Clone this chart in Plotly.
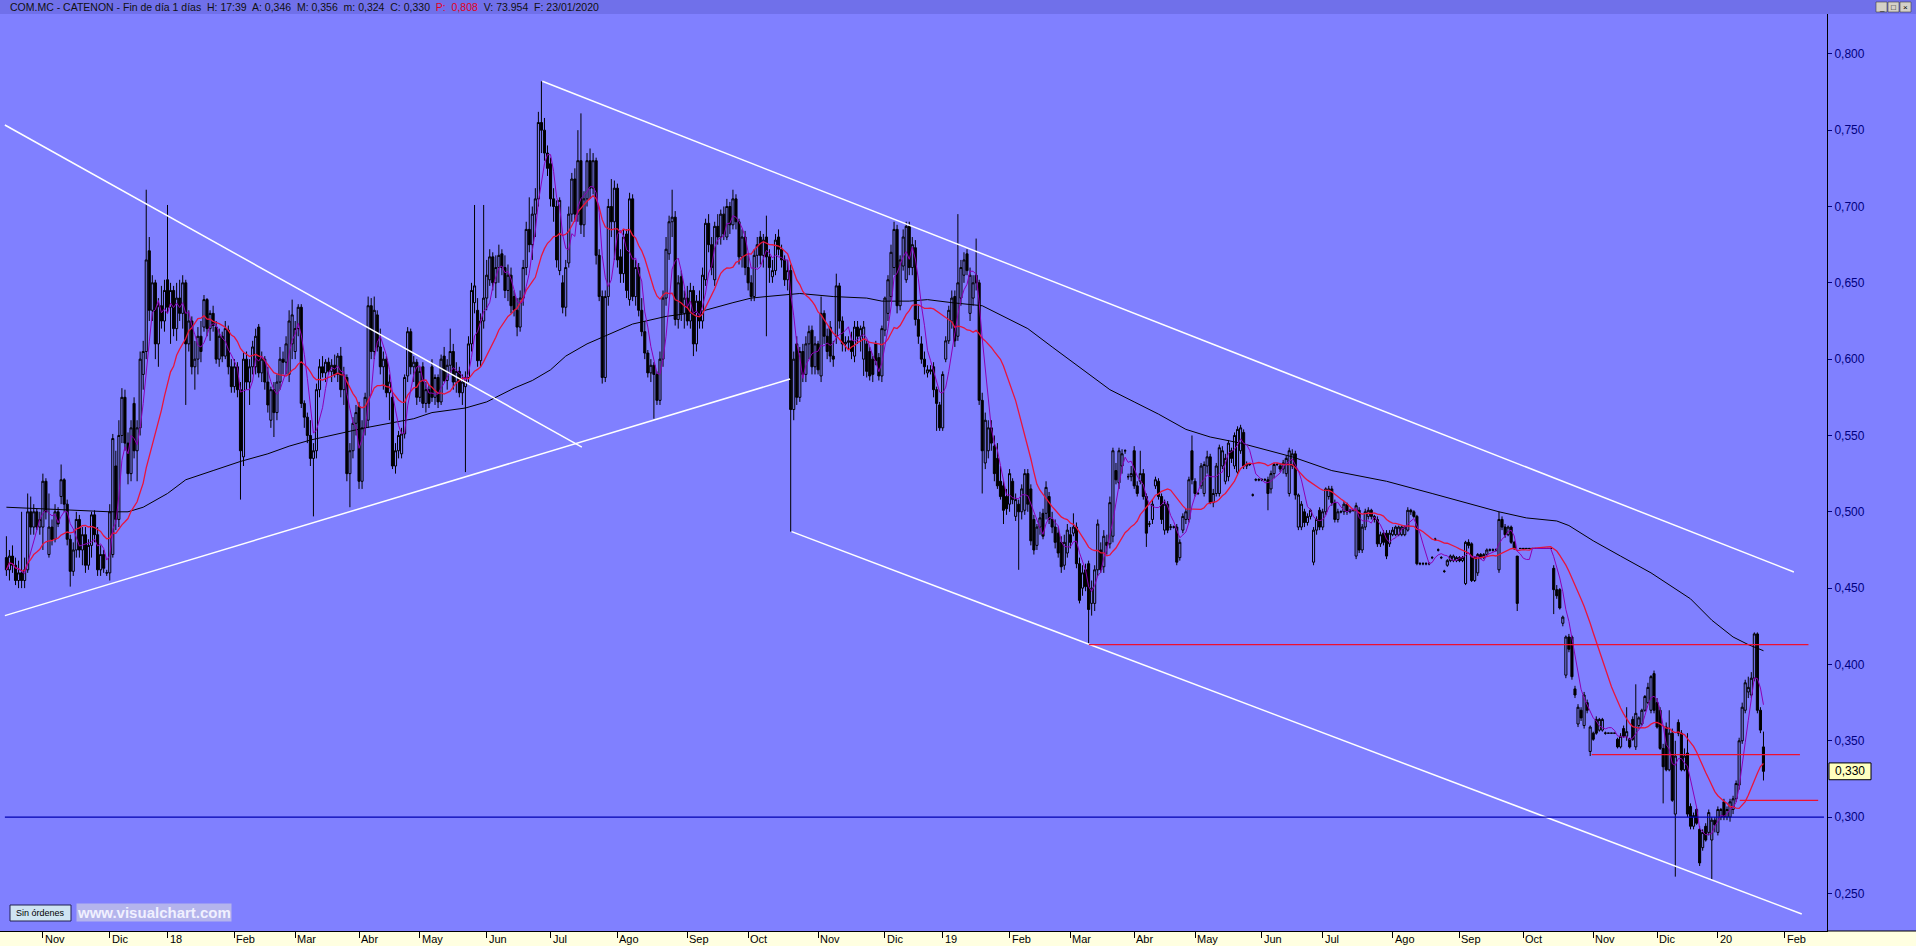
import pandas as pd
import plotly.graph_objects as go

# ---------------- data (prices in thousandths of a euro) ----------------
OPEN = [
470,462,471,465,455,460,455,462,500,490, 500,490,490,520,472,490,482,500,510,521,
505,482,461,475,495,475,485,465,478,498, 485,462,472,460,460,472,530,495,550,575,
545,525,571,540,555,590,605,671,632,650, 610,635,625,652,634,645,620,640,630,650,
610,625,595,600,615,621,639,620,630,621, 600,615,602,619,595,582,595,580,536,600,
585,595,595,621,591,600,585,560,580,565, 585,600,598,590,610,605,620,634,571,562,
550,535,540,580,595,591,598,592,596,590, 602,580,588,525,540,558,569,520,555,560,
635,605,629,608,595,600,578,575,530,540, 538,551,589,618,595,598,575,595,571,580,
595,575,588,572,602,586,596,605,585,592, 578,582,588,610,637,632,599,625,640,652,
667,650,660,669,660,645,655,641,632,621, 640,660,685,675,695,705,755,750,735,728,
705,700,658,650,634,663,695,718,695,730, 688,705,730,712,730,668,641,588,641,700,
690,712,667,656,682,639,705,641,660,632, 618,604,591,596,590,573,600,640,669,690,
693,626,654,630,640,625,645,610,638,625, 652,689,675,652,687,680,695,680,700,688,
705,690,667,680,660,650,641,668,680,668, 680,667,654,658,680,672,665,652,658,567,
610,575,605,590,610,619,595,610,589,630, 615,621,602,615,648,625,610,611,612,602,
621,615,600,610,605,600,610,601,589,619, 630,641,660,685,635,661,652,687,660,673,
626,610,600,591,592,595,580,570,555,600, 612,625,641,615,640,655,669,630,640,655,
650,573,532,540,555,543,535,520,517,510, 505,520,497,505,500,501,525,515,495,478,
490,499,499,510,495,490,486,480,465,473, 485,486,490,466,450,462,466,440,440,462,
475,464,480,479,484,527,519,530,540,523, 523,540,517,520,525,510,492,495,517,520,
510,488,505,490,490,490,470,488,495,495, 540,520,512,517,512,530,536,506,512,512,
530,520,523,540,530,526,540,552,530,531, 511,521,521,521,521,521,515,525,531,530,
528,525,512,530,538,490,490,500,493,497, 467,488,501,490,500,510,515,506,495,500,
500,505,500,501,471,501,475,490,497,501, 497,495,479,486,486,479,485,485,485,485,
485,488,501,500,497,466,466,466,466,470, 482,475,470,461,465,468,468,468,470,468,
453,480,479,455,460,472,470,472,475,475, 475,462,495,490,485,490,480,471,476,476,
476,476,476,476,476,476,476,476,476,463, 449,449,427,393,418,418,384,361,370,360,
375,343,355,364,357,357,355,355,355,355, 351,346,358,353,351,364,346,360,361,370,
375,370,394,375,370,345,359,331,355,302, 362,355,331,342,307,294,305,292,280,294,
290,285,298,290,300,310,300,300,305,312, 321,350,370,382,380,391,420,370,346]

HIGH = [
484,475,478,470,468,500,470,512,510,505, 502,500,525,522,512,495,505,503,531,522,
508,485,480,500,498,490,490,482,500,501, 490,478,475,462,505,551,540,560,581,580,
552,560,575,560,605,612,711,680,655,652, 640,648,652,701,650,648,650,652,655,652,
632,628,612,621,625,642,640,632,635,625, 620,618,625,622,600,600,598,585,604,605,
600,612,620,623,605,602,595,582,585,590, 608,605,615,632,639,625,636,636,573,565,
560,545,584,600,602,600,601,600,603,604, 608,595,590,545,562,570,572,560,578,641,
640,641,632,620,605,602,590,578,545,553, 555,590,621,620,602,600,595,598,585,583,
600,590,590,603,608,600,620,610,598,595, 590,592,615,650,701,640,630,701,665,672,
670,668,675,672,668,662,660,645,640,645, 665,690,706,700,712,762,782,758,740,732,
712,704,706,655,665,700,722,725,750,761, 710,735,738,735,732,672,645,645,705,718,
717,715,672,685,685,709,708,665,663,640, 625,606,600,598,592,605,645,680,694,711,
697,655,658,645,648,650,648,642,645,660, 692,695,680,690,695,698,700,705,703,711,
708,692,685,684,668,655,672,680,684,682, 694,672,665,682,685,675,668,665,662,605,
615,608,610,615,622,622,615,612,641,632, 620,625,612,656,650,628,615,615,618,625,
625,622,625,612,608,602,612,604,622,641, 655,675,690,688,668,685,690,690,680,678,
635,615,605,596,596,598,582,572,592,615, 635,645,645,695,665,670,672,660,655,679,
652,578,565,560,560,550,545,530,520,515, 528,522,512,508,518,528,528,518,498,492,
500,502,520,513,500,495,490,484,485,492, 490,499,493,470,465,466,468,455,465,495,
480,488,485,510,542,532,542,541,541,525, 530,543,520,540,528,512,494,508,523,522,
512,508,507,492,491,492,482,499,502,523, 550,522,513,532,533,540,538,515,532,544,
543,538,547,542,552,556,557,554,533,532, 512,522,522,522,522,523,527,532,532,532,
534,537,542,541,540,512,507,502,499,502, 490,497,503,502,516,517,517,508,502,501,
507,506,502,502,506,503,492,502,503,502, 498,497,487,488,488,488,490,491,491,491,
491,503,502,501,498,467,467,467,467,471, 483,476,471,462,469,472,472,471,471,471,
481,482,480,471,473,473,473,476,476,476, 476,500,497,492,491,491,481,471,476,476,
476,476,476,476,476,476,476,476,476,465, 452,450,432,419,420,419,386,374,372,382,
377,360,356,366,365,365,356,355,355,355, 352,355,360,372,352,366,387,366,371,380,
388,393,396,378,372,348,362,370,358,350, 364,357,345,355,309,303,306,294,292,296,
305,300,300,307,306,312,307,312,314,324, 352,375,390,392,395,421,421,372,356]

LOW = [
458,455,460,452,450,450,450,460,485,485, 488,485,475,495,470,478,480,490,505,500,
478,451,458,470,470,465,460,462,470,480, 458,458,460,458,455,470,488,490,545,540,
518,520,535,520,550,580,600,625,625,600, 595,620,618,630,610,615,612,625,620,570,
605,590,580,590,598,618,615,612,618,597, 595,598,600,590,578,578,575,508,530,580,
570,590,590,588,585,580,565,555,549,560, 580,590,590,585,600,600,615,568,555,545,
530,497,535,575,588,585,590,585,588,585, 575,570,520,503,535,550,515,515,550,555,
600,600,605,590,580,575,560,528,525,535, 535,548,585,590,585,570,572,568,565,568,
572,570,568,570,585,580,590,580,578,575, 570,526,585,605,630,595,595,620,632,648,
645,640,650,655,640,638,630,628,615,618, 635,655,670,665,680,700,735,730,720,700,
690,660,655,630,628,660,690,690,690,682, 680,700,705,708,662,638,584,585,635,680,
665,660,650,650,640,635,638,635,628,615, 600,588,585,561,570,570,595,635,665,680,
622,620,625,620,622,620,602,605,620,620, 648,670,655,648,675,675,678,678,682,685,
685,662,660,655,645,638,638,660,662,660, 615,650,650,655,668,660,648,645,487,560,
570,572,585,585,600,590,590,590,585,610, 600,598,595,610,620,605,605,606,600,598,
610,605,589,588,586,585,596,586,585,615, 625,638,655,630,632,658,650,655,655,622,
610,597,590,588,590,575,553,553,553,598, 610,620,608,612,635,650,655,625,635,645,
570,512,528,535,540,520,515,508,492,498, 500,505,494,462,495,498,500,478,472,475,
485,482,495,492,486,476,470,460,462,470, 476,484,463,440,445,448,413,432,435,458,
460,460,472,476,480,518,515,525,538,521, 520,515,510,518,508,477,490,492,515,508,
492,485,486,488,489,465,468,486,492,493, 518,510,511,515,510,525,505,503,510,510,
528,518,520,532,528,524,538,528,528,530, 510,520,520,520,520,501,512,522,530,526,
525,523,510,528,508,488,488,490,491,495, 465,485,488,488,498,508,504,493,493,499,
498,498,499,500,469,473,473,488,495,495, 493,477,477,478,469,477,484,484,484,484,
484,487,498,496,465,465,465,465,465,469, 481,474,469,460,464,467,467,467,467,467,
452,476,454,454,458,469,469,471,474,474, 474,460,488,483,484,479,475,435,476,476,
476,476,476,476,476,476,476,476,476,433, 443,436,425,391,408,390,378,359,363,358,
368,340,350,354,356,356,354,355,355,355, 345,345,352,350,345,350,344,358,360,369,
374,368,368,358,344,309,330,330,310,261, 353,330,330,300,292,292,295,268,278,284,
288,259,290,288,298,298,298,297,302,310, 318,348,368,378,378,389,368,355,324]

CLOSE = [
462,471,465,455,460,455,462,500,490,500, 490,495,520,500,490,482,500,492,521,505,
482,461,475,495,475,485,465,478,498,485, 462,472,463,460,500,548,495,550,575,545,
525,555,540,555,600,605,665,632,650,610, 635,625,645,634,645,620,640,630,650,610,
625,595,600,615,605,639,620,630,622,600, 615,602,620,595,582,595,580,540,600,585,
595,608,615,591,600,585,570,580,565,585, 600,598,610,625,629,620,634,571,562,550,
535,540,580,595,591,598,592,596,590,602, 580,590,525,540,558,565,520,555,575,635,
605,632,608,595,600,578,585,530,540,550, 551,588,618,595,598,575,592,571,580,571,
575,588,572,600,586,596,605,585,592,578, 585,588,610,645,648,599,625,640,655,667,
650,660,668,660,645,655,635,632,621,640, 660,685,675,695,705,755,750,735,725,705,
700,665,704,634,660,695,718,695,730,688, 705,730,712,730,668,641,588,641,700,690,
712,665,656,680,645,705,641,660,632,618, 604,591,596,590,573,600,640,672,690,693,
626,650,630,640,625,645,610,638,625,655, 689,675,660,687,680,695,682,700,688,705,
690,667,680,660,650,641,668,675,668,678, 667,660,658,678,672,665,652,658,567,600,
575,605,590,610,618,595,610,593,630,615, 605,602,600,648,625,610,611,612,605,621,
615,620,621,592,589,590,599,589,620,640, 652,670,685,635,665,680,687,660,675,626,
615,600,595,593,593,580,571,555,590,612, 632,640,612,650,660,665,658,655,650,650,
573,540,560,555,545,525,517,510,501,502, 525,508,508,500,515,525,505,481,475,490,
496,484,516,495,490,480,473,464,480,488, 480,490,466,442,460,451,436,450,462,492,
462,484,478,506,540,521,540,538,540,523, 525,517,512,525,510,486,492,505,521,510,
495,505,488,490,490,467,480,497,500,521, 521,512,512,530,531,536,506,512,530,542,
540,535,545,535,550,554,555,530,531,531, 511,521,521,521,521,512,525,531,531,528,
532,535,540,538,511,511,505,493,497,501, 488,495,490,500,515,515,506,495,500,500,
505,500,501,501,504,475,490,500,501,497, 495,479,485,480,471,486,488,490,490,490,
490,501,500,497,466,466,466,466,466,470, 482,475,470,461,468,471,471,470,468,470,
480,478,455,470,472,470,472,475,475,475, 475,495,490,485,490,480,476,440,476,476,
476,476,476,476,476,476,476,476,476,449, 445,437,431,418,410,392,380,372,365,380,
370,359,351,355,364,364,355,355,355,355, 346,353,353,356,346,351,368,365,370,379,
385,392,370,359,345,333,331,355,311,340, 355,331,340,302,294,301,296,270,290,285,
303,298,295,305,305,300,305,310,312,322, 350,372,388,385,391,420,370,357,330]

# long moving average (black): trading-day index -> price
MA_LONG_IDX = [0, 20, 34, 40, 45, 53, 59, 68, 77, 86, 93, 100, 118, 134, 140, 151, 158, 167, 173, 179,
               184, 191, 199, 206, 217, 228, 239, 245, 250, 261, 272, 283, 288, 297, 303, 311, 321, 327, 336, 344,
               353, 363, 371, 379, 388, 396, 406, 423, 436, 454, 469, 480, 491, 500, 510, 514, 522, 531, 541, 554,
               561, 568, 573, 578]
MA_LONG_VAL = [0.503, 0.501, 0.500, 0.500, 0.503, 0.512, 0.521, 0.527, 0.533, 0.538, 0.543, 0.547, 0.555, 0.561, 0.565, 0.568, 0.572, 0.581, 0.586, 0.593,
               0.602, 0.610, 0.617, 0.623, 0.628, 0.631, 0.637, 0.640, 0.641, 0.643, 0.641, 0.640, 0.638, 0.638, 0.639, 0.637, 0.635, 0.629, 0.620, 0.608,
               0.595, 0.580, 0.572, 0.564, 0.554, 0.549, 0.545, 0.536, 0.527, 0.520, 0.512, 0.506, 0.500, 0.496, 0.494, 0.491, 0.481, 0.471, 0.460, 0.443,
               0.429, 0.418, 0.413, 0.409]

# drawn lines (index, price)
WHITE_LINES = [(-0.5, 0.7534, 189.3, 0.5424), (-0.5, 0.432, 257.8, 0.587),
               (176.3, 0.782, 588.0, 0.4606), (258.3, 0.487, 590.6, 0.2365)]
RED_LEVELS = [(356.1, 592.8, 0.413), (521.5, 590.0, 0.341), (570.2, 596.0, 0.311)]
BLUE_LEVEL = (-0.5, 597.9, 0.300)

START, END = "2017-10-16", "2020-02-28"
HOLIDAYS = ["2017-12-25", "2017-12-26", "2018-01-01", "2018-03-30", "2018-04-02", "2018-05-01",
            "2018-12-25", "2018-12-26", "2019-01-01", "2019-04-19", "2019-04-22", "2019-05-01",
            "2019-12-25", "2019-12-26", "2020-01-01"]
MONTHS = {2: "Feb", 3: "Mar", 4: "Abr", 5: "May", 6: "Jun", 7: "Jul", 8: "Ago",
          9: "Sep", 10: "Oct", 11: "Nov", 12: "Dic"}
Y_TICKS = [0.25, 0.30, 0.35, 0.40, 0.45, 0.50, 0.55, 0.60, 0.65, 0.70, 0.75, 0.80]

HEADER = ("COM.MC - CATENON - Fin de día 1 días  H: 17:39  A: 0,346  M: 0,356  m: 0,324  C: 0,330  "
          "<span style='color:#E00020'>P:  0,808</span>  V: 73.954  F: 23/01/2020")
LAST_PRICE = 0.330

# ---------------- build ----------------
n = len(CLOSE)
assert len(OPEN) == n and len(HIGH) == n and len(LOW) == n, (len(OPEN), len(HIGH), len(LOW), n)
o = [v / 1000 for v in OPEN]
h = [v / 1000 for v in HIGH]
l = [v / 1000 for v in LOW]
c = [v / 1000 for v in CLOSE]
idx = list(range(n))

hol = set(pd.to_datetime(HOLIDAYS))
days = [d for d in pd.bdate_range(START, END) if d not in hol]
tick_idx, tick_txt = [], []
for i in range(1, len(days)):
    if days[i].month != days[i - 1].month:
        tick_idx.append(i)
        tick_txt.append(MONTHS.get(days[i].month, days[i].strftime("%y")))

cs = pd.Series(c)
ma_fast = cs.rolling(5, min_periods=1).mean()
ma_mid = cs.rolling(20, min_periods=1).mean()

BG = "#8080FF"
W, H = 1916, 946
ML, MR, MT, MB = 0, 89, 14, 15
PW, PH = W - ML - MR, H - MT - MB
X0, X1 = -2.105, 598.9
Y0, Y1 = 0.2254, 0.8261


def px(xp):
    return (xp - ML) / PW


def py(yp):
    return (H - MB - yp) / PH


fig = go.Figure()
fig.add_trace(go.Candlestick(
    x=idx, open=o, high=h, low=l, close=c,
    increasing=dict(line=dict(color="black", width=1), fillcolor=BG),
    decreasing=dict(line=dict(color="black", width=1), fillcolor="black"),
    whiskerwidth=0, hoverinfo="skip", showlegend=False))
fig.add_trace(go.Scatter(x=MA_LONG_IDX, y=MA_LONG_VAL, mode="lines",
                         line=dict(color="black", width=1), hoverinfo="skip"))
fig.add_trace(go.Scatter(x=idx, y=ma_mid, mode="lines",
                         line=dict(color="#E8143C", width=1.3), hoverinfo="skip"))
fig.add_trace(go.Scatter(x=idx, y=ma_fast, mode="lines",
                         line=dict(color="#8C00B4", width=1), hoverinfo="skip"))

shapes = []
for x0, y0, x1, y1 in WHITE_LINES:
    shapes.append(dict(type="line", xref="x", yref="y", x0=x0, y0=y0, x1=x1, y1=y1,
                       line=dict(color="white", width=1.5)))
for x0, x1, y in RED_LEVELS:
    shapes.append(dict(type="line", xref="x", yref="y", x0=x0, y0=y, x1=x1, y1=y,
                       line=dict(color="#EE1030", width=1.3)))
bx0, bx1, by = BLUE_LEVEL
shapes.append(dict(type="line", xref="x", yref="y", x0=bx0, y0=by, x1=bx1, y1=by,
                   line=dict(color="#0000B0", width=1.2)))
# header band and bottom strip
shapes.append(dict(type="rect", xref="paper", yref="paper", x0=px(0), x1=px(W), y0=py(MT), y1=py(0),
                   fillcolor="#7070EA", line=dict(width=0), layer="below"))
shapes.append(dict(type="rect", xref="paper", yref="paper", x0=px(0), x1=px(W), y0=py(H), y1=py(H - MB),
                   fillcolor="#FFFFE1", line=dict(width=0), layer="below"))
shapes.append(dict(type="line", xref="paper", yref="paper", x0=px(PW), x1=px(W), y0=py(H - MB), y1=py(H - MB),
                   line=dict(color="black", width=1)))
# window buttons
for bxp in (1876, 1888, 1900):
    shapes.append(dict(type="rect", xref="paper", yref="paper", x0=px(bxp), x1=px(bxp + 11),
                       y0=py(12), y1=py(2), fillcolor="#D4D0C8", line=dict(color="#404040", width=0.6)))
# last-price box
shapes.append(dict(type="rect", xref="paper", yref="y", x0=px(1829), x1=px(1871),
                   y0=LAST_PRICE - 0.0055, y1=LAST_PRICE + 0.0055,
                   fillcolor="#FFFFC0", line=dict(color="black", width=1)))
# "Sin órdenes" button
shapes.append(dict(type="rect", xref="paper", yref="paper", x0=px(10), x1=px(71), y0=py(921), y1=py(905),
                   fillcolor="#CFE4F2", line=dict(color="#202050", width=1)))

ann = []
for ti, tt in zip(tick_idx, tick_txt):
    ann.append(dict(x=ti, y=py(939), xref="x", yref="paper", text=tt, showarrow=False, borderpad=0,
                    xanchor="left", yanchor="middle", xshift=1, font=dict(family="Arial", size=11, color="black")))
ann.append(dict(x=px(8), y=py(7), xref="paper", yref="paper", text=HEADER, showarrow=False,
                xanchor="left", yanchor="middle", font=dict(family="Arial", size=10.5, color="#101010")))
ann.append(dict(x=px(1850), y=LAST_PRICE, xref="paper", yref="y", text="0,330", showarrow=False,
                xanchor="center", yanchor="middle", font=dict(family="Arial", size=12, color="black")))
ann.append(dict(x=px(40.5), y=py(913), xref="paper", yref="paper", text="Sin órdenes", showarrow=False,
                xanchor="center", yanchor="middle", font=dict(family="Arial", size=9, color="black")))
ann.append(dict(x=px(76), y=py(912), xref="paper", yref="paper", text="<b>www.visualchart.com</b>",
                showarrow=False, xanchor="left", yanchor="middle", bgcolor="#B4B4EC", borderpad=0,
                font=dict(family="Arial", size=15, color="#F0F0FF")))
for bxp, sym in ((1876, "_"), (1888, "□"), (1900, "×")):
    ann.append(dict(x=px(bxp + 5.5), y=py(7), xref="paper", yref="paper", text=sym, showarrow=False,
                    xanchor="center", yanchor="middle", font=dict(family="Arial", size=8, color="black")))

fig.update_layout(
    width=W, height=H, margin=dict(l=ML, r=MR, t=MT, b=MB, autoexpand=False),
    paper_bgcolor=BG, plot_bgcolor=BG, showlegend=False, boxgap=0.02,
    shapes=shapes, annotations=ann,
    xaxis=dict(range=[X0, X1], showgrid=False, zeroline=False, showline=True, linecolor="black",
               linewidth=1, ticks="outside", ticklen=6, tickcolor="black", tickvals=tick_idx,
               showticklabels=False, rangeslider=dict(visible=False), automargin=False),
    yaxis=dict(range=[Y0, Y1], side="right", showgrid=False, zeroline=False, showline=True,
               linecolor="black", linewidth=1, ticks="outside", ticklen=4, tickcolor="#000080",
               tickvals=Y_TICKS, ticktext=[f"{v:.3f}".replace(".", ",") for v in Y_TICKS],
               tickfont=dict(family="Arial", size=12, color="#000080"), automargin=False),
)

fig.write_html("out.html", config={"displayModeBar": False},
               post_script="document.body.style.margin='0';document.body.style.overflow='hidden';")
